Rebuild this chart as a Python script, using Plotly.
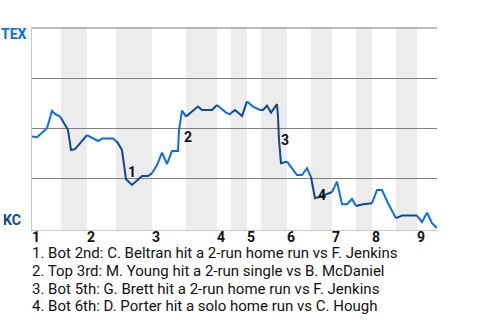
import plotly.graph_objects as go

# ---- data ----
# game progress (event units) and TEX win probability
progress = [0, 5, 15, 20, 23, 28, 29, 34, 36, 39, 43, 55, 66, 70, 81, 84, 86, 90, 94, 100,
            106, 110, 116, 120, 125, 130, 135, 140, 146, 147, 150, 154, 160, 166, 170, 180,
            185, 194, 198, 199, 203, 210, 215, 221, 228, 229, 231, 235, 239, 245, 246, 247,
            249, 255, 260, 265, 270, 275, 278, 279, 283, 290, 298, 300, 303, 305, 310, 315,
            320, 324, 331, 340, 345, 350, 356, 364, 370, 385, 390, 395, 400, 405]
tex_wp = [0.457, 0.454, 0.499, 0.585, 0.570, 0.557, 0.550, 0.507, 0.490, 0.390, 0.394, 0.464,
          0.435, 0.447, 0.447, 0.435, 0.424, 0.390, 0.244, 0.215, 0.244, 0.260, 0.260, 0.274,
          0.315, 0.377, 0.320, 0.385, 0.385, 0.490, 0.587, 0.557, 0.582, 0.607, 0.590, 0.590,
          0.615, 0.577, 0.569, 0.575, 0.590, 0.560, 0.633, 0.607, 0.590, 0.590, 0.590, 0.612,
          0.577, 0.619, 0.557, 0.440, 0.324, 0.332, 0.299, 0.265, 0.265, 0.299, 0.265, 0.255,
          0.149, 0.160, 0.174, 0.180, 0.215, 0.232, 0.119, 0.119, 0.145, 0.110, 0.119, 0.124,
          0.190, 0.190, 0.124, 0.049, 0.062, 0.062, 0.029, 0.077, 0.024, 0.000]

# half-inning boundaries (top half = TEX batting, bottom half = KC batting)
half_starts = [0, 29, 55, 84, 120, 154, 185, 199, 215, 229, 255, 279, 300, 324, 340, 364, 385]
half_ends = [29, 55, 84, 120, 154, 185, 199, 215, 229, 255, 279, 300, 324, 340, 364, 385, 405]
inning_labels = ["1", "2", "3", "4", "5", "6", "7", "8", "9"]
grid_levels = [0.25, 0.5, 0.75, 1.0]

event_x = [94, 150, 247, 284]
event_wp = [0.282, 0.455, 0.44, 0.165]
event_text = [
    "1. Bot 2nd: C. Beltran hit a 2-run home run vs F. Jenkins",
    "2. Top 3rd: M. Young hit a 2-run single vs B. McDaniel",
    "3. Bot 5th: G. Brett hit a 2-run home run vs F. Jenkins",
    "4. Bot 6th: D. Porter hit a solo home run vs C. Hough",
]
teams = ["TEX", "KC"]

TEX_BLUE = "#0a6cf5"
KC_BLUE = "#0d4a90"
FONT = "Roboto"

fig = go.Figure()

shapes = []
for i, (s, e) in enumerate(zip(half_starts, half_ends)):
    bottom = i % 2 == 1
    if bottom:
        shapes.append(dict(type="rect", xref="x", yref="paper", x0=s, x1=e, y0=0, y1=1,
                           fillcolor="#ececec", line_width=0, layer="below"))
    xs = [x for x in progress if s <= x <= e]
    ys = [y for x, y in zip(progress, tex_wp) if s <= x <= e]
    fig.add_trace(go.Scatter(x=xs, y=ys, mode="lines",
                             line=dict(color=KC_BLUE if bottom else TEX_BLUE, width=2),
                             hoverinfo="skip", showlegend=False))
# top gridline (edge of range, not drawn by the axis grid)
shapes.append(dict(type="line", xref="paper", yref="y", x0=0, x1=1,
                   y0=grid_levels[-1], y1=grid_levels[-1],
                   line=dict(color="#808080", width=1), layer="below"))

annotations = []
# inning labels at start of each top half
for k, lab in enumerate(inning_labels):
    annotations.append(dict(x=half_starts[2 * k], y=0, xref="x", yref="paper",
                            text="<b>%s</b>" % lab, showarrow=False, xanchor="left",
                            yanchor="middle", yshift=-7, xshift=-2,
                            font=dict(family=FONT, size=14, color="#111")))
# team labels
annotations.append(dict(x=0, y=0.97, xref="paper", yref="y", text="<b>%s</b>" % teams[0],
                        showarrow=False, xanchor="right", yanchor="middle", xshift=-3,
                        font=dict(family=FONT, size=14, color=TEX_BLUE)))
annotations.append(dict(x=0, y=0.04, xref="paper", yref="y", text="<b>%s</b>" % teams[1],
                        showarrow=False, xanchor="right", yanchor="middle", xshift=-9,
                        font=dict(family=FONT, size=14, color=KC_BLUE)))
# event markers
for n, (ex, ey) in enumerate(zip(event_x, event_wp)):
    annotations.append(dict(x=ex, y=ey, xref="x", yref="y", text="<b>%d</b>" % (n + 1),
                            showarrow=False, xanchor="left", yanchor="middle",
                            font=dict(family=FONT, size=14, color="#111")))
# event descriptions
for n, t in enumerate(event_text):
    annotations.append(dict(x=0, y=0, xref="paper", yref="paper", text=t, showarrow=False,
                            xanchor="left", yanchor="middle", xshift=-2,
                            yshift=-(23 + 17.8 * n),
                            font=dict(family=FONT, size=15, color="#111")))

fig.update_layout(
    width=480, height=320,
    margin=dict(l=32, r=43, t=27, b=90),
    paper_bgcolor="white", plot_bgcolor="white",
    shapes=shapes, annotations=annotations,
    xaxis=dict(range=[0, 405], showgrid=False, zeroline=False, showticklabels=False,
               showline=True, linecolor="#c8c8c8", linewidth=1, ticks=""),
    yaxis=dict(range=[-0.01, 1.005], tickvals=grid_levels, showgrid=True,
               gridcolor="#808080", gridwidth=1, zeroline=False, showticklabels=False,
               showline=True, linecolor="#c8c8c8", linewidth=1, ticks=""),
)

fig.write_html("out.html")
